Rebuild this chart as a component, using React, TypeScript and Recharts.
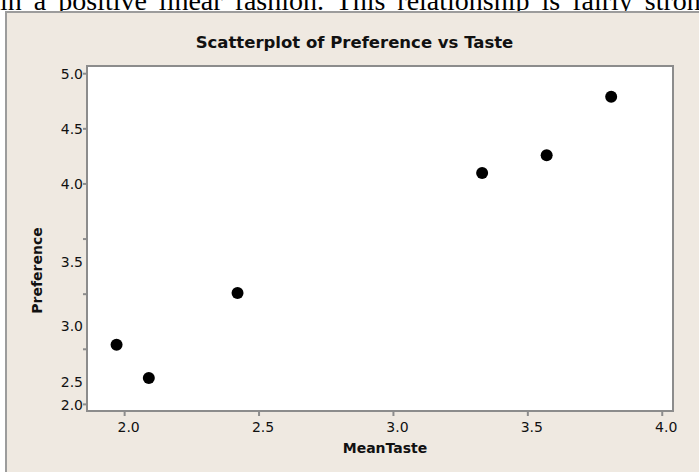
import {
  ScatterChart,
  Scatter,
  XAxis,
  YAxis,
  CartesianGrid,
  ReferenceArea,
  Label,
} from "recharts";

// values
const meanTaste = [1.97, 2.09, 2.42, 3.33, 3.57, 3.81];
const preference = [2.54, 2.24, 3.01, 4.1, 4.26, 4.79];

const xTicks = [2.0, 2.5, 3.0, 3.5, 4.0];
const yTicks = [2.0, 2.5, 3.0, 3.5, 4.0, 4.5, 5.0];

const X_DOMAIN: [number, number] = [1.86, 4.04];
const Y_DOMAIN: [number, number] = [1.94, 5.07];

// the reference draws some y labels a bit below their tick marks
const yLabelShift: Record<string, number> = {
  "2.0": 1,
  "2.5": 33,
  "3.0": 32,
  "3.5": 23,
  "4.0": 0,
  "4.5": 0,
  "5.0": 0,
};

const points = meanTaste.map((x, i) => ({ x, y: preference[i] }));

const FONT = "'DejaVu Sans', Verdana, sans-serif";
const FRAME_BG = "#efe9e1";
const BORDER = "#8c8c8c";

const XTick = ({ x, y, payload }: any) => (
  <text x={x + 4} y={y} dy={14} textAnchor="middle" fontSize={14} fontFamily={FONT} fill="#111">
    {Number(payload.value).toFixed(1)}
  </text>
);

const YTick = ({ x, y, payload }: any) => {
  const label = Number(payload.value).toFixed(1);
  return (
    <text x={x} y={y + (yLabelShift[label] || 0)} dy={5} textAnchor="end" fontSize={14} fontFamily={FONT} fill="#111">
      {label}
    </text>
  );
};

const Dot = (props: any) => <circle cx={props.cx} cy={props.cy} r={6} fill="#000" />;

export default function App() {
  return (
    <div
      style={{
        position: "absolute",
        left: 0,
        top: 0,
        width: 699,
        height: 472,
        overflow: "hidden",
        background: "#fff",
      }}
    >
      <div
        style={{
          position: "absolute",
          left: 0,
          top: -15,
          whiteSpace: "nowrap",
          fontFamily: "'Liberation Serif', 'Times New Roman', serif",
          fontSize: 28,
          wordSpacing: 5,
          lineHeight: "normal",
          color: "#000",
        }}
      >
        in a positive linear fashion. This relationship is fairly strong
      </div>
      <div
        style={{
          position: "absolute",
          left: 5,
          top: 11,
          width: 740,
          height: 520,
          background: FRAME_BG,
          borderTop: "2px solid #9c9c9c",
          borderLeft: "2px solid #9c9c9c",
        }}
      />
      <div
        style={{
          position: "absolute",
          left: 5,
          top: 34,
          width: 699,
          textAlign: "center",
          fontFamily: FONT,
          fontWeight: "bold",
          fontSize: 16.5,
          lineHeight: "18px",
          color: "#111",
        }}
      >
        Scatterplot of Preference vs Taste
      </div>
      <div style={{ position: "absolute", left: 0, top: 0 }}>
        <ScatterChart width={699} height={472} margin={{ top: 66, right: 26, bottom: 31, left: 0 }}>
          <CartesianGrid fill="#fff" horizontal={false} vertical={false} />
          <XAxis
            type="number"
            dataKey="x"
            domain={X_DOMAIN}
            ticks={xTicks}
            interval={0}
            allowDataOverflow
            height={30}
            tickSize={5}
            axisLine={false}
            tickLine={{ stroke: BORDER, strokeWidth: 2 }}
            tick={<XTick />}
          >
            <Label
              content={({ viewBox }: any) => (
                <text
                  x={viewBox.x + viewBox.width / 2 + 5}
                  y={viewBox.y + 42}
                  textAnchor="middle"
                  fontSize={14}
                  fontWeight="bold"
                  fontFamily={FONT}
                  fill="#111"
                >
                  MeanTaste
                </text>
              )}
            />
          </XAxis>
          <YAxis
            type="number"
            dataKey="y"
            domain={Y_DOMAIN}
            ticks={yTicks}
            interval={0}
            allowDataOverflow
            width={87}
            tickSize={4}
            tickMargin={0}
            axisLine={false}
            tickLine={{ stroke: BORDER, strokeWidth: 2 }}
            tick={<YTick />}
          >
            <Label
              content={({ viewBox }: any) => {
                const cx = viewBox.x + 37;
                const cy = viewBox.y + viewBox.height / 2 + 32;
                return (
                  <text
                    x={cx}
                    y={cy}
                    transform={`rotate(-90, ${cx}, ${cy})`}
                    textAnchor="middle"
                    dominantBaseline="central"
                    fontSize={14}
                    fontWeight="bold"
                    fontFamily={FONT}
                    fill="#111"
                  >
                    Preference
                  </text>
                );
              }}
            />
          </YAxis>
          <ReferenceArea
            x1={X_DOMAIN[0]}
            x2={X_DOMAIN[1]}
            y1={Y_DOMAIN[0]}
            y2={Y_DOMAIN[1]}
            fill="none"
            stroke={BORDER}
            strokeWidth={2}
          />
          <Scatter data={points} fill="#000" shape={<Dot />} isAnimationActive={false} />
        </ScatterChart>
      </div>
    </div>
  );
}
